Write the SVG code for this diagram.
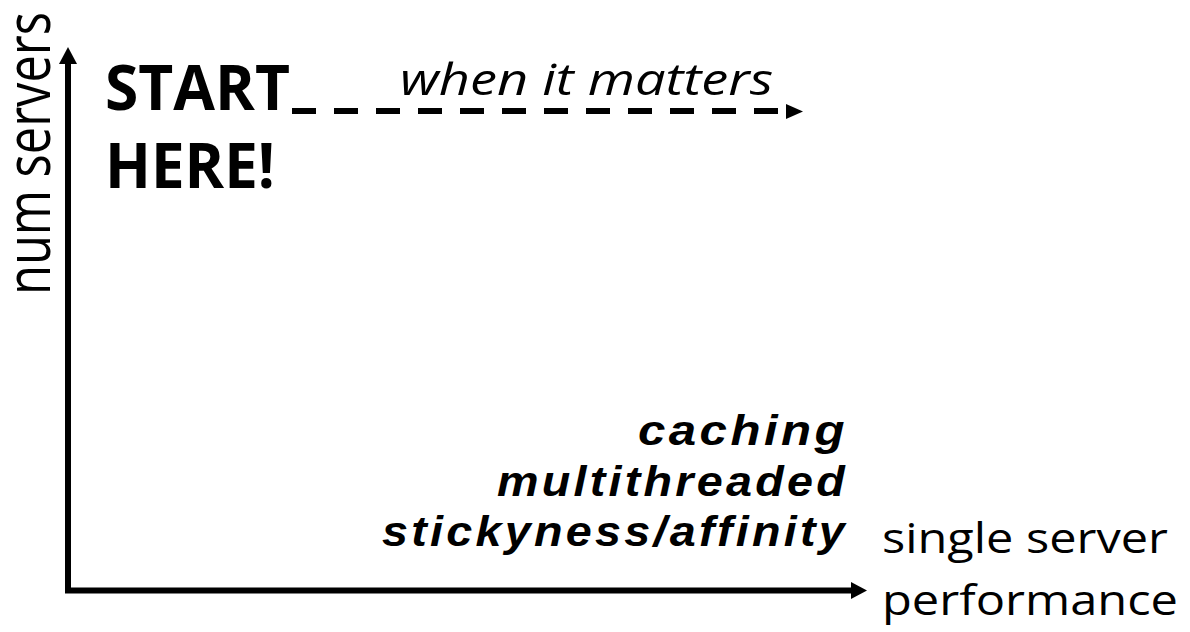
<svg xmlns="http://www.w3.org/2000/svg" width="1190" height="632" viewBox="0 0 1190 632">
  <style>
    .sans { font-family: "Open Sans", "Noto Sans", "DejaVu Sans", sans-serif; fill: #000; }
    .big { font-size: 63px; font-weight: bold; }
    .label { font-size: 42px; }
    .note { font-size: 43px; font-style: italic; }
    .tech { font-family: "Liberation Sans", Arial, sans-serif; font-size: 43px; font-weight: bold; font-style: italic; fill: #000; text-anchor: end; letter-spacing: 3px; }
    .axis { stroke: #000; stroke-width: 6; fill: none; }
    .dash { stroke: #000; stroke-width: 6; fill: none; stroke-dasharray: 24 18; }
  </style>

  <rect width="1190" height="632" fill="#fff"/>

  <!-- axes and the dashed growth path -->
  <g id="connectors">
    <path class="axis" d="M68 593 V62"/>
    <polygon points="68,47 59,64 77,64" fill="#000"/>
    <path class="axis" d="M65 590.5 H853"/>
    <polygon points="867,590.5 851,582 851,599" fill="#000"/>
    <path class="dash" d="M292 111 H786"/>
    <polygon points="803,111.5 786,104 786,119" fill="#000"/>
  </g>

  <!-- axis titles -->
  <g id="y-axis-label">
    <text class="sans label" transform="translate(50,295) rotate(-90) scale(1,1.5)" textLength="283" lengthAdjust="spacingAndGlyphs">num servers</text>
  </g>
  <g id="x-axis-label">
    <text class="sans label" x="882" y="553" textLength="286" lengthAdjust="spacingAndGlyphs">single server</text>
    <text class="sans label" x="882" y="615" textLength="296" lengthAdjust="spacingAndGlyphs">performance</text>
  </g>

  <!-- starting point -->
  <g id="start">
    <text class="sans big" x="105" y="110" textLength="185" lengthAdjust="spacingAndGlyphs">START</text>
    <text class="sans big" x="105" y="188" textLength="170" lengthAdjust="spacingAndGlyphs">HERE!</text>
  </g>

  <g id="when-it-matters">
    <text class="sans note" x="400" y="95" textLength="373" lengthAdjust="spacingAndGlyphs">when it matters</text>
  </g>

  <!-- single-server techniques -->
  <g id="techniques">
    <text class="tech" x="848" y="445" textLength="210" lengthAdjust="spacingAndGlyphs">caching</text>
    <text class="tech" x="848" y="496" textLength="351" lengthAdjust="spacingAndGlyphs">multithreaded</text>
    <text class="tech" x="848" y="546" textLength="466" lengthAdjust="spacingAndGlyphs">stickyness/affinity</text>
  </g>
</svg>
